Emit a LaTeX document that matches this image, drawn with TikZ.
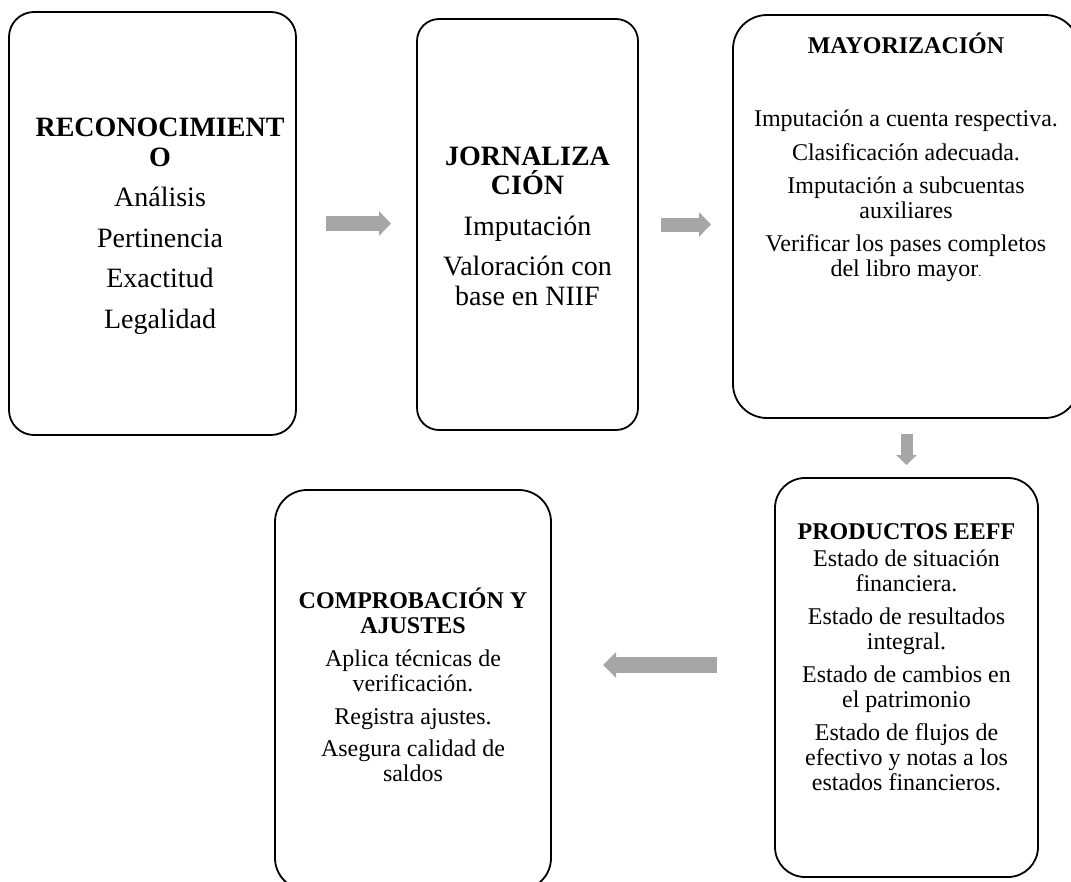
\documentclass[tikz,border=0pt]{standalone}
\usepackage{fontspec}
\setmainfont{Liberation Serif}
\usetikzlibrary{positioning,arrows.meta}

\definecolor{arrowgray}{RGB}{166,166,166}

\newcommand{\bigtext}{\fontsize{28}{29.5}\selectfont}
\newcommand{\smalltext}{\fontsize{24}{25}\selectfont}

\tikzset{
  stage/.style={draw=black, line width=1.8pt, rectangle, inner sep=0pt, outer sep=0pt},
  stagetext/.style={align=center, inner sep=0pt, outer sep=0pt, font=\smalltext},
  flow/.style={draw=arrowgray, line width=15pt, -{Triangle[width=24pt, length=12pt]}}
}

\begin{document}
\begin{tikzpicture}
    \useasboundingbox (0, 0) rectangle (1071pt, -881pt);
    \clip (0, 0) rectangle (1071pt, -881pt);
    \begin{scope}[x=1pt, y=1pt]
      % Stages
      \node[stage, rounded corners=25pt, minimum width=287pt, minimum height=423pt] (recon) at (152.5, -223.5) {};
      \node[stage, rounded corners=22pt, minimum width=221pt, minimum height=411pt] (jorn) at (527.5, -224.5) {};
      \node[stage, rounded corners=34pt, minimum width=346pt, minimum height=403pt] (mayor) at (906, -216.5) {};
      \node[stage, rounded corners=30pt, minimum width=263pt, minimum height=399pt] (prod) at (906.5, -677.5) {};
      \node[stage, rounded corners=32pt, minimum width=276pt, minimum height=400pt] (compr) at (413, -690) {};

      % Texts
      \node[stagetext, font=\bigtext, below=106pt of recon.north, xshift=7.5pt] (recontext) {
        \textbf{RECONOCIMIENT}\\\textbf{O}\\[11pt]
        Análisis\\[11pt] Pertinencia\\[11pt] Exactitud\\[11pt] Legalidad};
      \node[stagetext, font=\bigtext, below=127.5pt of jorn.north] (jorntext) {
        \textbf{JORNALIZA}\\\textbf{CIÓN}\\[11pt]
        Imputación\\[11pt] Valoración con\\base en NIIF};
      \node[stagetext, below=18pt of mayor.north] (mayortext) {
        \textbf{MAYORIZACIÓN}\\[48pt]
        Imputación a cuenta respectiva.\\[9pt]
        Clasificación adecuada.\\[8pt]
        Imputación a subcuentas\\auxiliares\\[8pt]
        Verificar los pases completos\\del libro mayor{\fontsize{12}{12}\selectfont.}};
      \node[stagetext, below=46pt of prod.north] (prodtext) {
        \textbf{PRODUCTOS EEFF}\\[2pt]
        Estado de situación\\financiera.\\[8pt]
        Estado de resultados\\integral.\\[8pt]
        Estado de cambios en\\el patrimonio\\[8pt]
        Estado de flujos de\\efectivo y notas a los\\estados financieros.};
      \node[stagetext, below=98pt of compr.north] (comprtext) {
        \textbf{COMPROBACIÓN Y}\\\textbf{AJUSTES}\\[8pt]
        Aplica técnicas de\\verificación.\\[8pt]
        Registra ajustes.\\[7pt]
        Asegura calidad de\\saldos};

      % Flow arrows
      \draw[flow] ([xshift=30pt]recon.east) -- ([xshift=-26pt]recon.east -| jorn.west);
      \draw[flow, line width=14pt] ([xshift=23pt]jorn.east) -- ([xshift=-22pt]jorn.east -| mayor.west);
      \draw[flow, line width=12pt, -{Triangle[width=20pt, length=10pt]}] ([yshift=-16pt]mayor.south -| prod.north) -- ([yshift=13pt]prod.north);
      \draw[flow, line width=16pt, -{Triangle[width=25pt, length=13pt]}] ([xshift=-58pt, yshift=12.5pt]prod.west) -- ([xshift=52pt, yshift=12.5pt]prod.west -| compr.east);
    \end{scope}
\end{tikzpicture}
\end{document}
